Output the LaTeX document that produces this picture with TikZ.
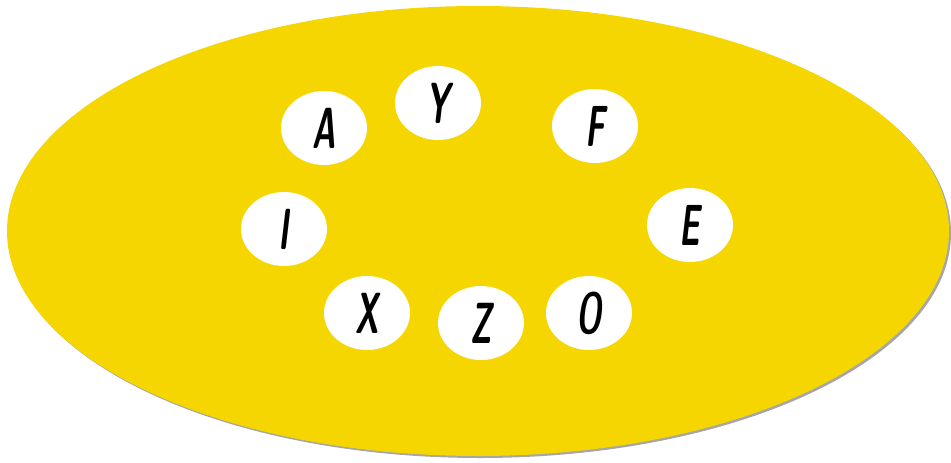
\documentclass[tikz,border=0pt]{standalone}
\usepackage{graphicx}
\usepackage{xcolor}
\usepackage{tikz}
\usetikzlibrary{shapes.geometric}

\definecolor{plate}{RGB}{245,214,0}

\begin{document}
\begin{tikzpicture}[x=1pt,y=-1pt,
  plate/.style={fill=plate,draw=none},
  rim/.style={fill=gray!70,draw=none},
  disc/.style={ellipse,fill=white,draw=none,minimum width=86pt,minimum height=74pt,inner sep=0pt,
    font=\fontsize{58}{58}\selectfont\sffamily\bfseries\slshape}]
  \useasboundingbox (0,0) rectangle (951,463);
  % the plate and its thin rim
  \fill[rim] (480,233) ellipse [x radius=471,y radius=225];
  \fill[plate] (478,231) ellipse [x radius=471,y radius=225];
  % the letters
  \node[disc] (lA) at (324,128) {\scalebox{0.55}[1]{A}};
  \node[disc] (lY) at (438,103) {\scalebox{0.55}[1]{Y}};
  \node[disc] (lF) at (595,126) {\scalebox{0.55}[1]{F}};
  \node[disc] (lI) at (284,229) {\scalebox{0.55}[1]{I}};
  \node[disc] (lE) at (690,225) {\scalebox{0.55}[1]{E}};
  \node[disc] (lX) at (367,313) {\scalebox{0.55}[1]{X}};
  \node[disc] (lZ) at (481,323) {\scalebox{0.55}[1]{Z}};
  \node[disc] (lO) at (589,313) {\scalebox{0.55}[1]{O}};
\end{tikzpicture}
\end{document}
